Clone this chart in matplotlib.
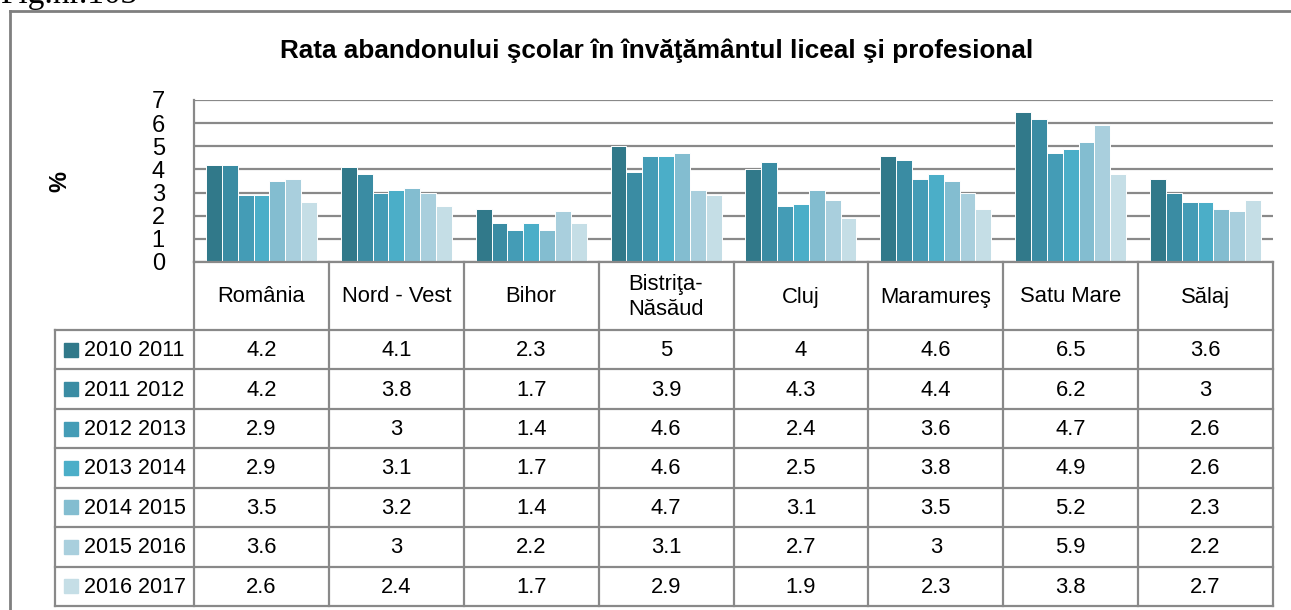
import numpy as np
import matplotlib.pyplot as plt
from matplotlib.patches import Rectangle

# Date: rata abandonului scolar (%), pe judete si ani scolari
regions = ['România', 'Nord - Vest', 'Bihor', 'Bistriţa-\nNăsăud', 'Cluj',
           'Maramureş', 'Satu Mare', 'Sălaj']
years = ['2010 2011', '2011 2012', '2012 2013', '2013 2014',
         '2014 2015', '2015 2016', '2016 2017']
r_2010 = [4.2, 4.1, 2.3, 5, 4, 4.6, 6.5, 3.6]
r_2011 = [4.2, 3.8, 1.7, 3.9, 4.3, 4.4, 6.2, 3]
r_2012 = [2.9, 3, 1.4, 4.6, 2.4, 3.6, 4.7, 2.6]
r_2013 = [2.9, 3.1, 1.7, 4.6, 2.5, 3.8, 4.9, 2.6]
r_2014 = [3.5, 3.2, 1.4, 4.7, 3.1, 3.5, 5.2, 2.3]
r_2015 = [3.6, 3, 2.2, 3.1, 2.7, 3, 5.9, 2.2]
r_2016 = [2.6, 2.4, 1.7, 2.9, 1.9, 2.3, 3.8, 2.7]
series = [r_2010, r_2011, r_2012, r_2013, r_2014, r_2015, r_2016]

colors = ['#31798A', '#3A8CA3', '#449CB6', '#4BAEC8', '#83BDD0', '#A9CFDD', '#C5DEE6']
grid_c = '#898989'
sans = ['Liberation Sans', 'DejaVu Sans']

W, H = 1291, 610
fig = plt.figure(figsize=(W / 100, H / 100), dpi=100)

# plot area in pixel coordinates
px0, px1, py_top, py_bot = 194, 1273, 100, 262
ax = fig.add_axes([px0 / W, 1 - py_bot / H, (px1 - px0) / W, (py_bot - py_top) / H])
n_cat = len(regions)
n_ser = len(series)
bw = 1 / (n_ser + 1.5)
x = np.arange(n_cat) + 0.5
for j, vals in enumerate(series):
    ax.bar(x + (j - (n_ser - 1) / 2) * bw, vals, width=bw, color=colors[j],
           edgecolor='white', linewidth=0.7, zorder=3)
ax.set_xlim(0, n_cat)
ax.set_ylim(0, 7)
ax.set_yticks(range(8))
ax.set_xticks([])
ax.yaxis.grid(True, color=grid_c, linewidth=1.6, zorder=0)
for s in ['top', 'right', 'bottom']:
    ax.spines[s].set_visible(False)
ax.spines['left'].set_color(grid_c)
ax.spines['left'].set_linewidth(1.6)
ax.tick_params(axis='y', length=0, pad=21)
for lab in ax.get_yticklabels():
    lab.set_fontfamily(sans)
    lab.set_fontsize(17)

# overlay for the data table, frame and titles (pixel coordinates)
ov = fig.add_axes([0, 0, 1, 1], facecolor='none')
ov.set_xlim(0, W)
ov.set_ylim(H, 0)
ov.axis('off')

# outer chart frame
ov.plot([10, 10], [11, H + 5], color='#7F7F7F', lw=2)
ov.plot([10, W + 5], [11, 11], color='#7F7F7F', lw=2)
ov.text(0, 3, 'Fig.nr.103', family='Liberation Serif', fontsize=24,
        va='baseline', ha='left')

ov.text(657, 51, 'Rata abandonului şcolar în învăţământul liceal şi profesional',
        family=sans, fontsize=18.8, fontweight='bold', ha='center', va='center')
ov.text(60, 181, '%', family=sans, fontsize=17, fontweight='bold',
        rotation=90, ha='center', va='center')

# data table below the plot
col_w = (px1 - px0) / n_cat
tab_left = 55
head_bot = 330
row_h = (606 - head_bot) / n_ser
lw = 1.6
ov.plot([px0, px1], [py_bot, py_bot], color=grid_c, lw=lw)
for k in range(n_ser + 1):
    y = head_bot + k * row_h
    ov.plot([tab_left, px1], [y, y], color=grid_c, lw=lw)
for i in range(n_cat + 1):
    xc = px0 + i * col_w
    ov.plot([xc, xc], [py_bot, 606], color=grid_c, lw=lw)
ov.plot([tab_left, tab_left], [head_bot, 606], color=grid_c, lw=lw)

for i, name in enumerate(regions):
    ov.text(px0 + (i + 0.5) * col_w, 297, name, family=sans, fontsize=15.8,
            ha='center', va='center', linespacing=1.3)

for j, (yr, vals) in enumerate(zip(years, series)):
    yc = head_bot + (j + 0.5) * row_h
    ov.add_patch(Rectangle((64, yc - 7), 14, 14, color=colors[j]))
    ov.text(84, yc + 1, yr, family=sans, fontsize=15.5, ha='left', va='center')
    for i, v in enumerate(vals):
        ov.text(px0 + (i + 0.5) * col_w, yc + 1, f'{v:g}', family=sans,
                fontsize=15.8, ha='center', va='center')

fig.savefig('out.png', dpi=100)
